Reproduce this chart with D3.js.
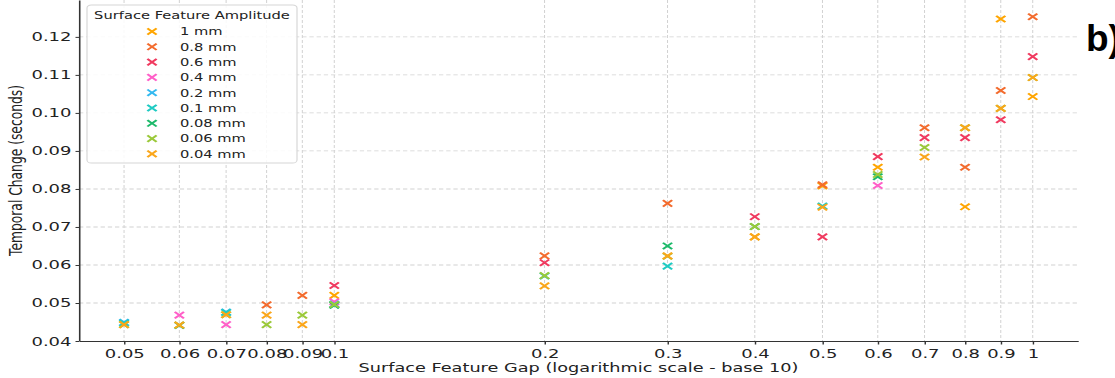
<!DOCTYPE html>
<html>
<head>
<meta charset="utf-8">
<script src="https://cdn.jsdelivr.net/npm/d3@7"></script>
<style>
  body { margin: 0; background: #fff; }
  text { font-family: "DejaVu Sans", sans-serif; }
</style>
</head>
<body>
<div id="chart"></div>
<script>
// 1: DATA
const gaps = [0.05, 0.06, 0.07, 0.08, 0.09, 0.1, 0.2, 0.3, 0.4, 0.5, 0.6, 0.7, 0.8, 0.9, 1];
const yTicks = [0.04, 0.05, 0.06, 0.07, 0.08, 0.09, 0.10, 0.11, 0.12];
const amplitudes = ["1 mm", "0.8 mm", "0.6 mm", "0.4 mm", "0.2 mm", "0.1 mm", "0.08 mm", "0.06 mm", "0.04 mm"];
const colors = ["#ffa500", "#f36b2d", "#f03a5f", "#ff5fc8", "#33b9f0", "#1fcbc3", "#1db96a", "#9bc93a", "#faa61a"];

// one value per gap, null where there is no measurement
const amp1mm   = [null, null, null, null, null, 0.0520, null, null, 0.0674, 0.0808, 0.0857, null, 0.0753, 0.1247, 0.1043];
const amp08mm  = [null, null, null, 0.0495, 0.0520, null, 0.0624, 0.0762, null, 0.0811, null, 0.0961, 0.0857, 0.1059, 0.1253];
const amp06mm  = [null, null, null, null, null, 0.0546, 0.0606, null, 0.0727, 0.0674, 0.0885, 0.0935, 0.0935, 0.0982, 0.1148];
const amp04mm  = [null, 0.0468, 0.0443, null, null, 0.0503, null, null, null, null, 0.0809, null, null, null, null];
const amp02mm  = [0.0449, null, 0.0476, null, null, 0.0497, null, null, null, null, null, null, null, null, null];
const amp01mm  = [0.0447, null, 0.0475, null, null, 0.0495, 0.0571, 0.0597, null, 0.0755, null, null, null, null, null];
const amp008mm = [null, 0.0441, null, null, null, 0.0494, null, 0.0650, 0.0701, null, 0.0832, null, null, null, null];
const amp006mm = [0.0443, 0.0442, 0.0469, 0.0443, 0.0468, 0.0496, 0.0572, 0.0623, 0.0701, null, 0.0838, 0.0909, 0.0961, 0.1012, 0.1093];
const amp004mm = [0.0443, 0.0442, 0.0469, 0.0468, 0.0443, null, 0.0545, 0.0624, 0.0674, 0.0752, null, 0.0884, 0.0961, 0.1012, 0.1093];

const seriesValues = [amp1mm, amp08mm, amp06mm, amp04mm, amp02mm, amp01mm, amp008mm, amp006mm, amp004mm];

// 2: LAYOUT (the picture is stretched horizontally, so draw in a scaled group)
const sx = 1.44;
const width = 1115, height = 378;
const plot = { left: 79, right: 1078, top: 0, bottom: 341 };

const svg = d3.select("#chart").append("svg")
    .attr("width", width)
    .attr("height", height);

const g = svg.append("g").attr("transform", `scale(${sx},1)`);

// 3: SCALES
const xScale = d3.scaleLog()
    .domain([0.0431, 1.161])
    .range([plot.left / sx, plot.right / sx]);
const yScale = d3.scaleLinear()
    .domain([0.04, 0.1297])
    .range([plot.bottom, plot.top]);

// 4: GRID
g.append("g").selectAll("line")
    .data(gaps)
    .enter().append("line")
    .attr("x1", d => xScale(d)).attr("x2", d => xScale(d))
    .attr("y1", plot.top).attr("y2", plot.bottom)
    .attr("stroke", "#d2d2d2").attr("stroke-width", 0.7)
    .attr("stroke-dasharray", "3,2");
g.append("g").selectAll("line")
    .data(yTicks.slice(1))
    .enter().append("line")
    .attr("x1", plot.left / sx).attr("x2", plot.right / sx)
    .attr("y1", d => yScale(d)).attr("y2", d => yScale(d))
    .attr("stroke", "#d2d2d2").attr("stroke-width", 0.9)
    .attr("stroke-dasharray", "3,2");

// 5: AXES
const xAxis = g.append("g")
    .attr("transform", `translate(0,${plot.bottom})`)
    .call(d3.axisBottom(xScale)
        .tickValues(gaps)
        .tickFormat(d3.format("~g"))
        .tickSize(3.5)
        .tickSizeOuter(0)
        .tickPadding(5));
const yAxis = g.append("g")
    .attr("transform", `translate(${plot.left / sx},0)`)
    .call(d3.axisLeft(yScale)
        .tickValues(yTicks)
        .tickFormat(d3.format(".2f"))
        .tickSize(3.5 / sx)
        .tickSizeOuter(0)
        .tickPadding(4 / sx));

[xAxis, yAxis].forEach(a => {
    a.select(".domain").attr("stroke", "#333").attr("stroke-width", 1.1);
    a.selectAll(".tick line").attr("stroke", "#333");
    a.selectAll(".tick text")
        .attr("fill", "#222")
        .style("font-size", "12.5px")
        .style("font-family", "DejaVu Sans");
});

// 6: POINTS
const marker = "M-3.2,-3.2L3.2,3.2M-3.2,3.2L3.2,-3.2";
seriesValues.forEach((vals, i) => {
    const pts = vals.map((v, j) => ({ gap: gaps[j], value: v })).filter(d => d.value !== null);
    g.append("g").selectAll("path")
        .data(pts)
        .enter().append("path")
        .attr("d", marker)
        .attr("transform", d => `translate(${xScale(d.gap)},${yScale(d.value)})`)
        .attr("fill", "none")
        .attr("stroke", colors[i])
        .attr("stroke-width", 1.7);
});

// 7: LABELS
g.append("text")
    .text("Surface Feature Gap (logarithmic scale - base 10)")
    .attr("x", (plot.left + plot.right) / 2 / sx)
    .attr("y", 372)
    .attr("text-anchor", "middle")
    .attr("fill", "#222")
    .style("font-size", "12.3px");
g.append("text")
    .text("Temporal Change (seconds)")
    .attr("transform", `translate(${22 / sx},${(plot.top + plot.bottom) / 2}) rotate(-90)`)
    .attr("text-anchor", "middle")
    .attr("fill", "#222")
    .style("font-size", "12.3px");

// 8: LEGEND
const legend = g.append("g");
legend.append("rect")
    .attr("x", 87 / sx).attr("y", 5)
    .attr("width", (297 - 87) / sx).attr("height", 158)
    .attr("rx", 3).attr("ry", 3)
    .attr("fill", "#fff").attr("fill-opacity", 0.85)
    .attr("stroke", "#d6d6d6").attr("stroke-width", 0.8);
legend.append("text")
    .text("Surface Feature Amplitude")
    .attr("x", 192 / sx).attr("y", 19)
    .attr("text-anchor", "middle")
    .attr("fill", "#222")
    .style("font-size", "10.2px");
const items = legend.selectAll(".legend-item")
    .data(amplitudes)
    .enter().append("g")
    .attr("class", "legend-item")
    .attr("transform", (d, i) => `translate(0,${31.5 + i * 15.3})`);
items.append("path")
    .attr("d", marker)
    .attr("transform", `translate(${152 / sx},0)`)
    .attr("fill", "none")
    .attr("stroke", (d, i) => colors[i])
    .attr("stroke-width", 1.7);
items.append("text")
    .text(d => d)
    .attr("x", 180 / sx)
    .attr("y", 3.8)
    .attr("fill", "#222")
    .style("font-size", "10.2px");

// panel tag
svg.append("text")
    .text("b)")
    .attr("x", 1086)
    .attr("y", 51)
    .attr("fill", "#000")
    .style("font-family", "Liberation Sans, Arial, sans-serif")
    .style("font-weight", "bold")
    .style("font-size", "37px");
</script>
</body>
</html>
